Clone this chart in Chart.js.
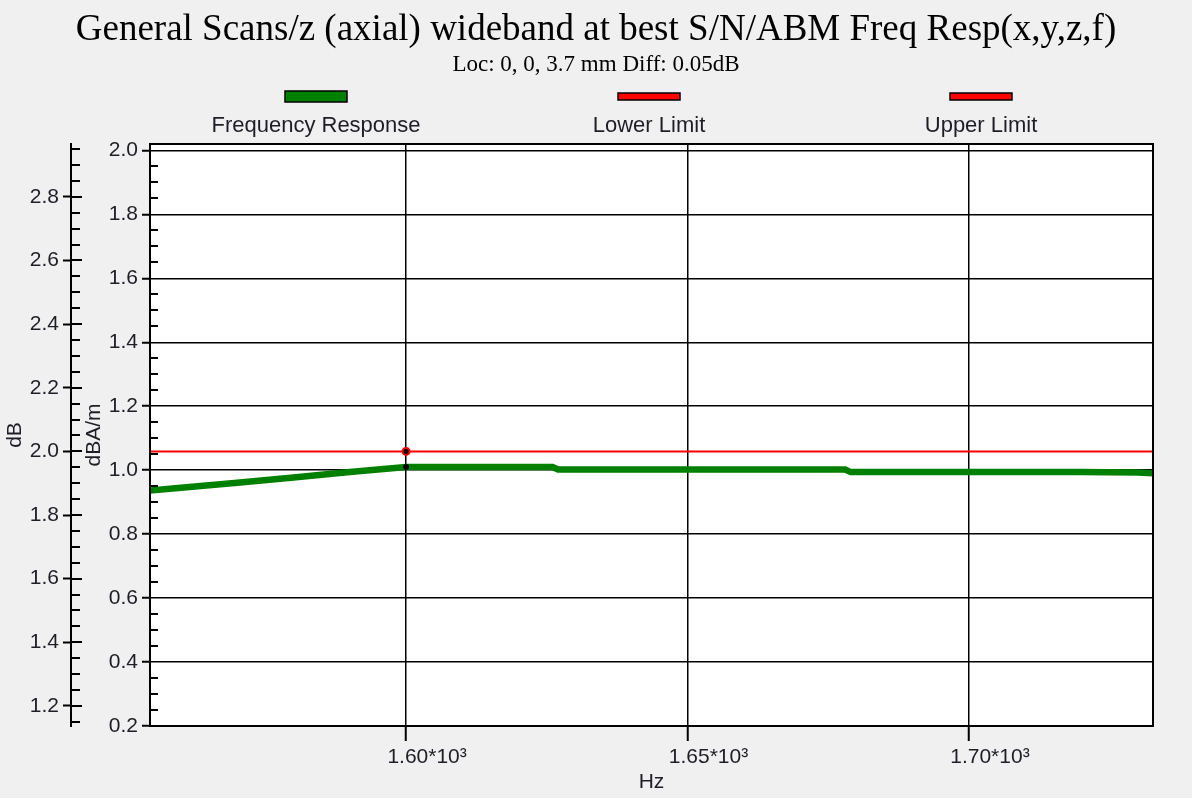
<!DOCTYPE html>
<html>
<head>
<meta charset="utf-8">
<style>
  html, body { margin: 0; padding: 0; background: #f0f0f0; }
  canvas { display: block; }
</style>
<script src="https://cdn.jsdelivr.net/npm/chart.js@4.4.1/dist/chart.umd.min.js"></script>
</head>
<body>
<canvas id="chart-1" width="1192" height="798"></canvas>
<script>
// frequency response (dBA/m, inner axis)
const respFreqs  = [1550, 1560, 1570, 1580, 1590, 1600, 1610, 1620, 1626, 1627, 1640, 1650, 1660, 1670, 1678, 1679, 1690, 1700, 1710, 1720, 1730, 1735];
const respValues = [0.929, 0.945, 0.961, 0.977, 0.994, 1.010, 1.010, 1.010, 1.010, 1.002, 1.002, 1.002, 1.002, 1.002, 1.002, 0.994, 0.994, 0.994, 0.994, 0.994, 0.993, 0.988];

// limits (dB, outer axis)
const limitFreqs  = [1540, 1600, 1750];
const upperLimit  = [2.0, 2.0, 2.0];
const lowerLimit  = [-2.0, -2.0, -2.0];

const cursorFreq = 1600;

// axes
const xTicks     = [1600, 1650, 1700];
const dbTicks    = [1.2, 1.4, 1.6, 1.8, 2.0, 2.2, 2.4, 2.6, 2.8];
const innerTicks = [0.2, 0.4, 0.6, 0.8, 1.0, 1.2, 1.4, 1.6, 1.8, 2.0];

const tickFont = { family: 'Liberation Sans', size: 21 };
const tickColor = '#1e1e28';

const toPoints = (xs, ys) => xs.map((x, i) => ({ x: x, y: ys[i] }));

// white plot area + frame + minor ticks
const framePlugin = {
    id: 'frame',
    beforeDraw(chart) {
        const { ctx, chartArea: a } = chart;
        ctx.save();
        ctx.fillStyle = '#ffffff';
        ctx.fillRect(a.left, a.top, a.right - a.left, a.bottom - a.top);
        ctx.restore();
    },
    afterDraw(chart) {
        const { ctx, chartArea: a } = chart;
        const yDb = chart.scales.yDb;
        const y = chart.scales.y;
        ctx.save();
        ctx.strokeStyle = '#000';
        ctx.lineWidth = 2;
        ctx.strokeRect(a.left, a.top, a.right - a.left, a.bottom - a.top);

        // outer axis: majors cross the line, minors on the right
        const xo = yDb.right;
        for (let k = 23; k <= 59; k++) {
            const py = Math.round(yDb.getPixelForValue(k * 0.05));
            if (py < a.top - 2 || py > a.bottom + 1) continue;
            const major = k % 4 === 0;
            ctx.beginPath();
            ctx.moveTo(xo, py);
            ctx.lineTo(xo + (major ? 11 : 9), py);
            ctx.stroke();
        }
        // inner axis minors inside plot
        const xi = y.right;
        for (let k = 5; k <= 40; k++) {
            if (k % 4 === 0) continue;
            const py = Math.round(y.getPixelForValue(k * 0.05));
            if (py < a.top || py > a.bottom) continue;
            ctx.beginPath();
            ctx.moveTo(xi, py);
            ctx.lineTo(xi + 8, py);
            ctx.stroke();
        }
        ctx.restore();
    }
};

// legend: swatch above label
const legendPlugin = {
    id: 'topLegend',
    afterDraw(chart) {
        const { ctx } = chart;
        const centers = [316, 649, 981];
        ctx.save();
        ctx.font = '22px "Liberation Sans"';
        ctx.textAlign = 'center';
        ctx.textBaseline = 'middle';
        chart.data.datasets.forEach((ds, i) => {
            const cx = centers[i];
            const h = ds.borderWidth > 3 ? 11 : 7;
            const top = ds.borderWidth > 3 ? 91 : 93;
            ctx.fillStyle = ds.borderColor;
            ctx.fillRect(cx - 31, top, 62, h);
            ctx.strokeStyle = '#000';
            ctx.lineWidth = 1.5;
            ctx.strokeRect(cx - 31, top, 62, h);
            ctx.fillStyle = tickColor;
            ctx.fillText(ds.label, cx, 126);
        });
        ctx.restore();
    }
};

const isCursor = c => c.raw && c.raw.x === cursorFreq;

new Chart(document.getElementById('chart-1').getContext('2d'), {
    type: 'line',
    data: {
        datasets: [{
            label: 'Frequency Response',
            data: toPoints(respFreqs, respValues),
            yAxisID: 'y',
            borderColor: '#008000',
            borderWidth: 6.5,
            borderCapStyle: 'butt',
            pointRadius: c => isCursor(c) ? 3 : 0,
            pointBackgroundColor: '#000',
            pointBorderWidth: 0
        }, {
            label: 'Lower Limit',
            data: toPoints(limitFreqs, lowerLimit),
            yAxisID: 'yDb',
            borderColor: '#ff0000',
            borderWidth: 2,
            pointRadius: 0
        }, {
            label: 'Upper Limit',
            data: toPoints(limitFreqs, upperLimit),
            yAxisID: 'yDb',
            borderColor: '#ff0000',
            borderWidth: 2,
            pointRadius: c => isCursor(c) ? 3.5 : 0,
            pointBackgroundColor: '#000',
            pointBorderColor: '#ff0000',
            pointBorderWidth: 2
        }]
    },
    options: {
        responsive: false,
        animation: false,
        layout: { padding: 0 },
        plugins: {
            legend: { display: false },
            tooltip: { enabled: false },
            title: {
                display: true,
                text: 'General Scans/z (axial) wideband at best S/N/ABM Freq Resp(x,y,z,f)',
                color: '#000',
                font: { family: 'Liberation Serif', size: 37, weight: 'normal', lineHeight: '44px' },
                padding: { top: 8, bottom: 0 }
            },
            subtitle: {
                display: true,
                text: 'Loc: 0, 0, 3.7 mm Diff: 0.05dB',
                color: '#000',
                font: { family: 'Liberation Serif', size: 23, lineHeight: '26px' },
                padding: { top: 0, bottom: 66 }
            }
        },
        scales: {
            x: {
                type: 'linear',
                min: 1554.5,
                max: 1732.7,
                afterBuildTicks: s => { s.ticks = xTicks.map(v => ({ value: v })); },
                afterFit: s => { s.height = 72; },
                ticks: {
                    autoSkip: false,
                    maxRotation: 0,
                    padding: 4,
                    labelOffset: 21,
                    color: tickColor,
                    font: tickFont,
                    callback: v => (v / 1000).toFixed(2) + '*10\u00b3'
                },
                grid: { color: '#000', lineWidth: 1.5, tickLength: 15, tickWidth: 2 },
                border: { color: '#000', width: 2 },
                title: { display: true, text: 'Hz', color: tickColor, font: tickFont, padding: { top: 0, bottom: 3 } }
            },
            y: {
                type: 'linear',
                position: 'left',
                min: 0.2,
                max: 2.02,
                afterBuildTicks: s => { s.ticks = innerTicks.map(v => ({ value: v })); },
                afterFit: s => { s.width = 79; },
                ticks: {
                    autoSkip: false,
                    padding: 4,
                    color: tickColor,
                    font: tickFont,
                    callback: v => v.toFixed(1)
                },
                grid: { color: '#000', lineWidth: 1.5, tickLength: 8, tickWidth: 2 },
                border: { color: '#000', width: 2 },
                title: { display: true, text: 'dBA/m', color: tickColor, font: tickFont, padding: { top: 11, bottom: 0 } }
            },
            yDb: {
                type: 'linear',
                position: 'left',
                min: 1.137,
                max: 2.966,
                afterBuildTicks: s => { s.ticks = dbTicks.map(v => ({ value: v })); },
                afterFit: s => { s.width = 71; },
                ticks: {
                    autoSkip: false,
                    padding: 4,
                    color: tickColor,
                    font: tickFont,
                    callback: v => v.toFixed(1)
                },
                grid: { drawOnChartArea: false, color: '#000', tickLength: 8, tickWidth: 2 },
                border: { color: '#000', width: 2 },
                title: { display: true, text: 'dB', color: tickColor, font: tickFont, padding: { top: 3, bottom: 0 } }
            },
            // empty right margin
            yRight: {
                type: 'linear',
                position: 'right',
                afterFit: s => { s.width = 39; },
                ticks: { display: false },
                grid: { display: false },
                border: { display: false }
            }
        }
    },
    plugins: [framePlugin, legendPlugin]
});
</script>
</body>
</html>
